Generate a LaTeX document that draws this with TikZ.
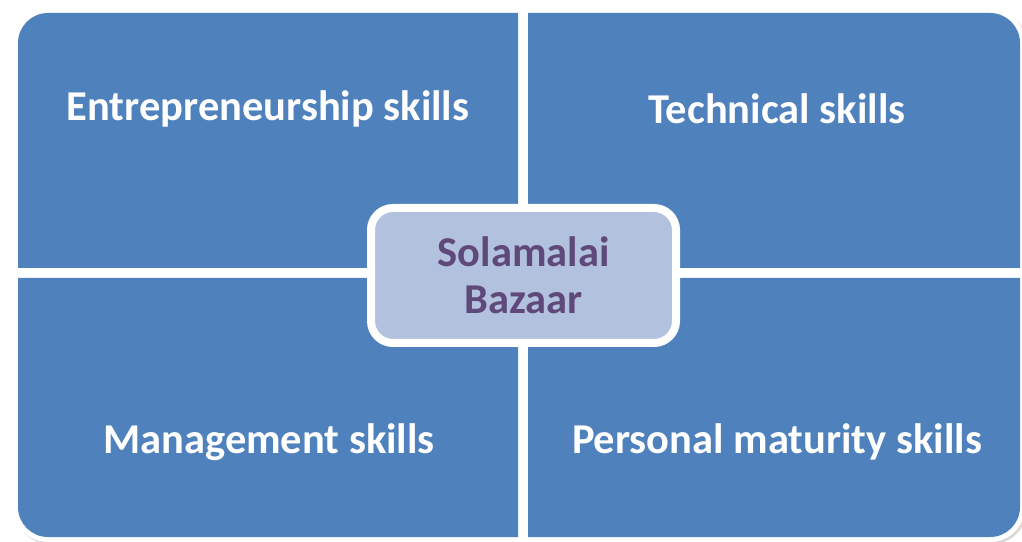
\documentclass[tikz,border=0pt]{standalone}
\usepackage{fontspec}
\setmainfont{Carlito}
\usetikzlibrary{shadows}
\definecolor{qblue}{HTML}{4F81BD}
\definecolor{cfill}{HTML}{B2C1DE}
\definecolor{ctext}{HTML}{5F497A}
\tikzset{
  wshape/.style={fill=white, drop shadow={opacity=0.3, shadow xshift=2pt, shadow yshift=-2pt}},
  bshape/.style={fill=qblue},
  qlabel/.style={text=white, font=\fontsize{42.5}{50}\selectfont\bfseries, inner sep=0pt},
  centerbox/.style={fill=cfill, draw=white, line width=8pt, rounded corners=22pt,
    minimum width=305pt, minimum height=135pt, align=center,
    text=ctext, font=\fontsize{42.5}{47}\selectfont\bfseries,
    drop shadow={opacity=0.35, shadow xshift=2pt, shadow yshift=-3pt}}
}
\begin{document}
\begin{tikzpicture}[x=1pt,y=1pt]
\useasboundingbox (0,0) rectangle (1022,541);
% white backs with shadows
\path[wshape] (13,268) -- (13,498) arc[start angle=180,end angle=90,radius=35] -- (523,533) -- (523,268) -- cycle;
\path[wshape] (523,268) -- (523,533) -- (990,533) arc[start angle=90,end angle=0,radius=35] -- (1025,268) -- cycle;
\path[wshape] (13,273) -- (13,34) arc[start angle=180,end angle=270,radius=35] -- (523,-1) -- (523,273) -- cycle;
\path[wshape] (523,273) -- (523,-1) -- (990,-1) arc[start angle=270,end angle=360,radius=35] -- (1025,273) -- cycle;
% blue quadrants
\path[bshape] (18,273) -- (18,498) arc[start angle=180,end angle=90,radius=30] -- (518,528) -- (518,273) -- cycle;
\path[bshape] (528,273) -- (528,528) -- (990,528) arc[start angle=90,end angle=0,radius=30] -- (1020,273) -- cycle;
\path[bshape] (18,263) -- (18,34) arc[start angle=180,end angle=270,radius=30] -- (518,4) -- (518,263) -- cycle;
\path[bshape] (528,263) -- (528,4) -- (990,4) arc[start angle=270,end angle=360,radius=30] -- (1020,263) -- cycle;
% labels
\node[qlabel] (ent) at (268,432) {Entrepreneurship skills};
\node[qlabel] (tech) at (777,432) {Technical skills};
\node[qlabel] (man) at (269,99) {Management skills};
\node[qlabel] (pers) at (777,99) {Personal maturity skills};
% centre
\node[centerbox] (centre) at (523.5,265.5) {Solamalai\\Bazaar};
\end{tikzpicture}
\end{document}
